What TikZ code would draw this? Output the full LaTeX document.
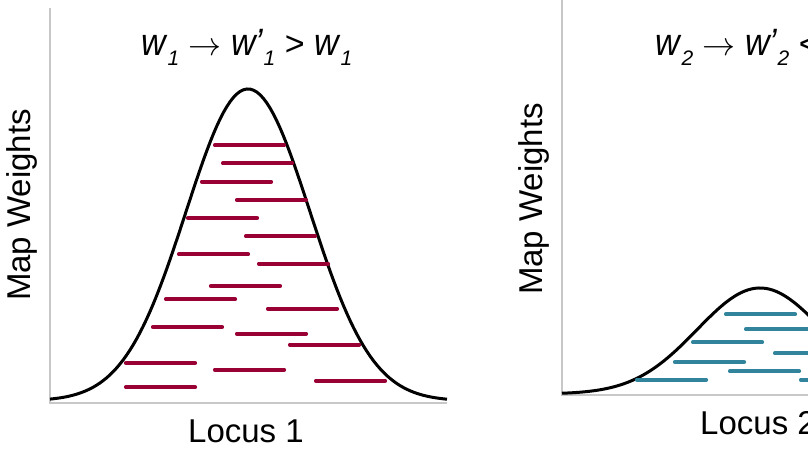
\documentclass[tikz,border=0pt]{standalone}
\usepackage{fontspec}
\setmainfont{Liberation Sans}
\usepackage{graphicx}
\usepackage{tikz}
\usepackage{xcolor}

\definecolor{dashred}{HTML}{990033}
\definecolor{dashteal}{HTML}{31849B}
\definecolor{axisgray}{HTML}{C8C8C8}
\newcommand{\wsub}[2][]{\scalebox{1}[1.12]{\textit{w#1}}\raisebox{-10pt}{\fontsize{21}{21}\selectfont\textit{#2}}}
\newcommand{\bigto}{{\fontsize{10}{12}\selectfont\scalebox{3.3}{$\rightarrow$}}}

\begin{document}
\begin{tikzpicture}[x=1pt,y=1pt,
    axisline/.style={axisgray,line width=1.5pt},
    bell/.style={black,line width=3pt},
    reddash/.style={dashred,line width=4.2pt,line cap=round},
    tealdash/.style={dashteal,line width=4.2pt,line cap=round},
    lbl/.style={font=\fontsize{33}{40}\selectfont,inner sep=0pt},
    ttl/.style={font=\fontsize{34}{40}\selectfont,inner sep=0pt}]
    \useasboundingbox (0,0) rectangle (808,455);
    \clip (0,0) rectangle (808,455);
    % left panel
    \draw[axisline] (50,447) -- (50,52) -- (447,52);
    \draw[bell] plot[domain=50:447,samples=120] (\x,{54+312*exp(-0.5*((\x-248)/62)^2)});
    \foreach \x/\y in {215/309.7,223/291.7,202/273.3,237/255,188/237,246/218.7,179/200.7,
        259/191.3,211/169,166/155.7,268/146.3,153/128,237/121.3,290/110.3,126/92,
        215/85.3,316/74.3,126/67.7}
        \draw[reddash] (\x,\y) -- ++(69,0);
    \node[ttl,anchor=base west] (title1) at (141,399) {\wsub{1} \bigto{} \wsub[\symbol{39}]{1} > \wsub{1}};
    \node[lbl,anchor=base west] (xlab1) at (188,13) {Locus 1};
    \node[lbl,anchor=base,rotate=90] (ylab1) at (30,250) {Map Weights};
    % right panel
    \draw[axisline] (562,455) -- (562,60) -- (980,60);
    \draw[bell] plot[domain=562:980,samples=120] (\x,{61+106*exp(-0.5*((\x-760)/63)^2)});
    \foreach \x/\y in {726/140.7,746/125.7,693/112.7,775/101.7,675/93,730/83.7,
        637/75.3,801/75.3}
        \draw[tealdash] (\x,\y) -- ++(69,0);
    \node[ttl,anchor=base west] (title2) at (655,399) {\wsub{2} \bigto{} \wsub[\symbol{39}]{2} < \wsub{2}};
    \node[lbl,anchor=base west] (xlab2) at (700,20) {Locus 2};
    \node[lbl,anchor=base,rotate=90] (ylab2) at (542,256) {Map Weights};
\end{tikzpicture}
\end{document}
